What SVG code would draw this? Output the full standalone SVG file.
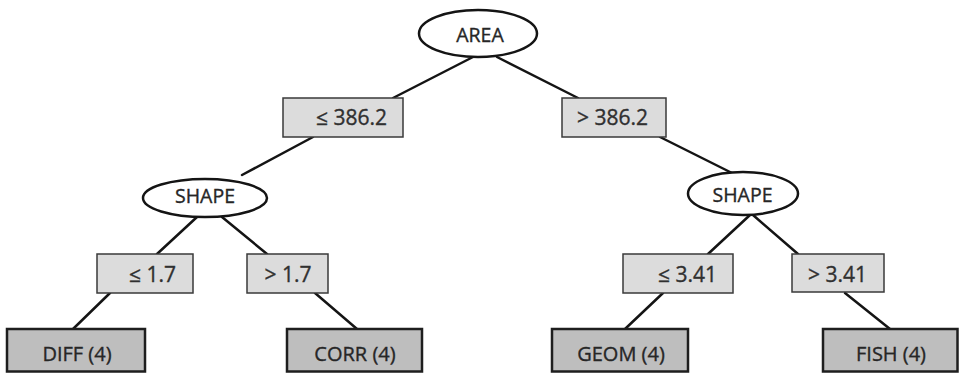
<svg xmlns="http://www.w3.org/2000/svg" width="959" height="373" viewBox="0 0 959 373">
<style>
  .bg { fill: #ffffff; }
  .edge { stroke: #141414; stroke-width: 2.5; fill: none; stroke-linecap: round; }
  .test { fill: #ffffff; stroke: #141414; stroke-width: 2.5; }
  .cond { fill: #dcdcdc; stroke: #3a3a3a; stroke-width: 1.5; }
  .leaf { fill: #bebebe; stroke: #1e1e1e; stroke-width: 2.5; }
  text { font-family: "Open Sans", "Liberation Sans", sans-serif; fill: #262626; stroke: #262626; stroke-width: 0.35; text-anchor: middle; }
  .t { font-size: 19.5px; }
  .c { font-size: 21px; fill: #303030; stroke: #303030; }
  .l { font-size: 20px; }
</style>
<rect class="bg" x="0" y="0" width="959" height="373"/>
<g id="connectors">
  <line class="edge" x1="473" y1="57" x2="393" y2="98"/>
  <line class="edge" x1="497" y1="57" x2="578" y2="98"/>
  <line class="edge" x1="313" y1="137" x2="242" y2="175"/>
  <line class="edge" x1="660" y1="137" x2="732" y2="173"/>
  <line class="edge" x1="197" y1="217" x2="157" y2="254"/>
  <line class="edge" x1="222" y1="217" x2="267" y2="254"/>
  <line class="edge" x1="750" y1="215" x2="708" y2="254"/>
  <line class="edge" x1="753" y1="215" x2="798" y2="254"/>
  <line class="edge" x1="110" y1="293" x2="73" y2="329"/>
  <line class="edge" x1="315" y1="293" x2="357" y2="329"/>
  <line class="edge" x1="663" y1="293" x2="625" y2="329"/>
  <line class="edge" x1="845" y1="293" x2="890" y2="329"/>
</g>
<g id="area">
  <ellipse class="test" cx="478" cy="33.5" rx="59" ry="23.5"/>
  <text class="t" x="480" y="42">AREA</text>
</g>
<g id="le-386">
  <rect class="cond" x="283" y="98" width="120" height="39"/>
  <text class="c" x="351.5" y="125">≤ 386.2</text>
</g>
<g id="gt-386">
  <rect class="cond" x="562" y="98" width="104" height="39"/>
  <text class="c" x="612.5" y="125">&gt; 386.2</text>
</g>
<g id="shape-left">
  <ellipse class="test" cx="205" cy="198" rx="62" ry="19"/>
  <text class="t" x="205" y="203">SHAPE</text>
</g>
<g id="shape-right">
  <ellipse class="test" cx="743" cy="193.5" rx="55" ry="21.5"/>
  <text class="t" x="742.5" y="202">SHAPE</text>
</g>
<g id="le-17">
  <rect class="cond" x="97" y="254" width="96" height="39"/>
  <text class="c" x="152.5" y="282">≤ 1.7</text>
</g>
<g id="gt-17">
  <rect class="cond" x="247" y="254" width="81" height="39"/>
  <text class="c" x="288" y="282">&gt; 1.7</text>
</g>
<g id="le-341">
  <rect class="cond" x="623" y="254" width="110" height="39"/>
  <text class="c" x="687.5" y="282">≤ 3.41</text>
</g>
<g id="gt-341">
  <rect class="cond" x="792" y="254" width="92" height="38"/>
  <text class="c" x="837.5" y="282">&gt; 3.41</text>
</g>
<g id="diff">
  <rect class="leaf" x="7" y="329" width="138" height="42.5"/>
  <text class="l" x="77" y="361">DIFF (4)</text>
</g>
<g id="corr">
  <rect class="leaf" x="287" y="329" width="135" height="42.5"/>
  <text class="l" x="355" y="361">CORR (4)</text>
</g>
<g id="geom">
  <rect class="leaf" x="552" y="329" width="136" height="42.5"/>
  <text class="l" x="621" y="361">GEOM (4)</text>
</g>
<g id="fish">
  <rect class="leaf" x="823" y="329" width="134.5" height="42.5"/>
  <text class="l" x="891" y="361">FISH (4)</text>
</g>
</svg>
